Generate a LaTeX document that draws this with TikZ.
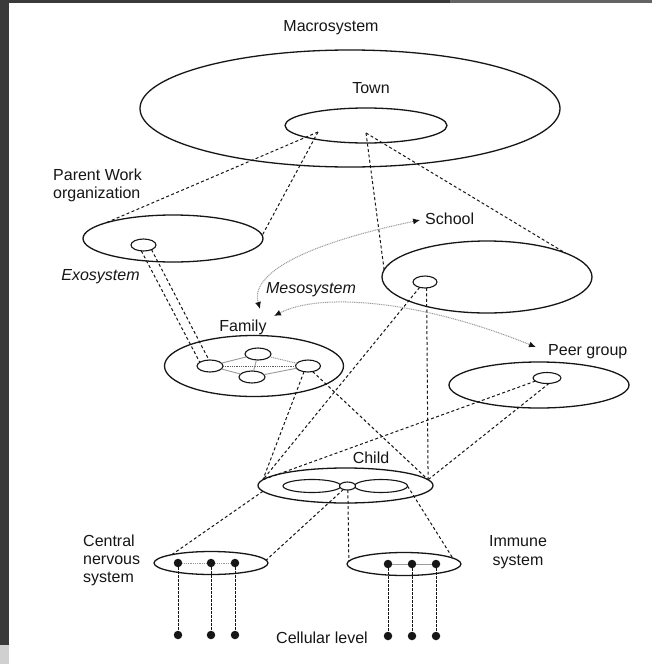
\documentclass[tikz,border=0pt]{standalone}
\usepackage{fontspec}
\setmainfont{Liberation Sans}
\usetikzlibrary{shapes.geometric,arrows.meta}
\definecolor{ink}{HTML}{161616}
\definecolor{bgdark}{HTML}{3A3A3A}
\definecolor{bgmid}{HTML}{646464}
\definecolor{bglight}{HTML}{D0D0D0}
\definecolor{lightln}{HTML}{9A9A9A}
\begin{document}
\begin{tikzpicture}[x=1pt,y=-1pt,
  ell/.style={ellipse, draw=ink, line width=1.3pt, inner sep=0pt, outer sep=0pt},
  smell/.style={ellipse, draw=ink, line width=1.1pt, inner sep=0pt, outer sep=0pt, fill=white},
  dsh/.style={draw=ink, line width=1pt, dash pattern=on 3pt off 2.4pt},
  vdsh/.style={draw=ink, line width=1pt, dash pattern=on 2.2pt off 1.8pt},
  meso/.style={draw=lightln, line width=1pt, dash pattern=on 1pt off 0.8pt,
     {Latex[length=7pt,width=6pt,color=ink]}-{Latex[length=7pt,width=6pt,color=ink]}},
  grayln/.style={draw=lightln, line width=0.9pt},
  graydot/.style={draw=lightln, line width=1pt, dash pattern=on 1pt off 0.8pt},
  lbl/.style={font=\fontsize{16}{18}\selectfont, text=ink, inner sep=0pt},
  lblit/.style={font=\fontsize{16}{18}\selectfont\itshape, text=ink, inner sep=0pt},
  dotn/.style={circle, fill=ink, inner sep=0pt, minimum size=8.5pt},
  ]
\useasboundingbox (0,0) rectangle (652,664);
\fill[white] (0,0) rectangle (652,664);
\fill[bgdark] (0,0) rectangle (9,664);
\fill[bglight] (0,645) rectangle (9,664);
\fill[bgdark] (0,0) rectangle (450,3);
\fill[bgmid] (450,0) rectangle (652,3);

% --- Macrosystem / Town
\node[lbl] (macroL) at (331,28) {Macrosystem};
\node[ell, minimum width=420, minimum height=117] (macro) at (350,108.5) {};
\node[lbl] (townL) at (371,88) {Town};
\node[ell, minimum width=162, minimum height=35] (town) at (366,125.5) {};
\coordinate (tA) at (318,132);
\coordinate (tB) at (366,133);

% --- Parent work
\node[lbl, align=left, anchor=west, font=\fontsize{16}{18}\selectfont] (pwL) at (53,185) {Parent Work\\organization};
\node[ell, minimum width=180, minimum height=47] (pw) at (173,238.5) {};
\node[smell, minimum width=25, minimum height=12] (pwc) at (143.5,245) {};
\node[lblit] (exoL) at (100.5,277) {Exosystem};

% --- School
\node[lbl, anchor=west] (schoolL) at (425,219) {School};
\node[ell, minimum width=210, minimum height=72] (school) at (487,277) {};
\node[smell, minimum width=24, minimum height=12] (sc) at (425,282) {};
\node[lblit] (mesoL) at (311,290) {Mesosystem};

% --- Family
\node[lbl] (familyL) at (243,327) {Family};
\node[ell, minimum width=179, minimum height=61] (family) at (254,366) {};
\node[smell, minimum width=26, minimum height=12] (fl) at (210,366) {};
\node[smell, minimum width=26, minimum height=12] (ft) at (258,354) {};
\node[smell, minimum width=25, minimum height=12] (fr) at (308,366) {};
\node[smell, minimum width=26, minimum height=12] (fb) at (252,377) {};
\draw[grayln] (fl) -- (ft);
\draw[graydot] (ft) -- (fr);
\draw[graydot, draw=ink!70] (fl) -- (fr);
\draw[grayln] (ft) -- (fb);
\draw[grayln] (fl) -- (fb);
\draw[grayln] (fb) -- (fr);

% --- Peer group
\node[lbl, anchor=west] (peerL) at (548,352) {Peer group};
\node[ell, minimum width=180, minimum height=46] (peer) at (539,385) {};
\node[smell, minimum width=28, minimum height=11] (pc) at (547,378) {};

% --- Child
\node[lbl] (childL) at (371,458) {Child};
\node[ell, minimum width=175, minimum height=35] (child) at (345.5,485.5) {};
\node[ell, line width=1.1pt, minimum width=58, minimum height=13] (llobe) at (312,486) {};
\node[ell, line width=1.1pt, minimum width=53, minimum height=13] (rlobe) at (381,486) {};
\node[smell, minimum width=16, minimum height=8] (cc) at (347.5,486) {};

% --- CNS / Immune
\node[lbl, align=left, anchor=west, font=\fontsize{16}{18}\selectfont] (cnsL) at (83,560) {Central\\nervous\\system};
\node[ell, minimum width=114, minimum height=23] (cns) at (211,563) {};
\node[lbl, align=center, font=\fontsize{16}{19}\selectfont] (immL) at (518,552.5) {Immune\\system};
\node[ell, minimum width=114, minimum height=23] (imm) at (404,564) {};

\node[dotn] (cn1) at (178,563) {};
\node[dotn] (cn2) at (211,563) {};
\node[dotn] (cn3) at (235,563) {};
\node[dotn] (cc1) at (178,635) {};
\node[dotn] (cc2) at (211,635) {};
\node[dotn] (cc3) at (235,635) {};
\node[dotn] (im1) at (388,564) {};
\node[dotn] (im2) at (412,564) {};
\node[dotn] (im3) at (436,564) {};
\node[dotn] (ic1) at (388,636) {};
\node[dotn] (ic2) at (412,636) {};
\node[dotn] (ic3) at (436,636) {};
\draw[graydot] (cn1) -- (cn2);
\draw[graydot] (cn2) -- (cn3);
\draw[grayln] (im1) -- (im2);
\draw[grayln] (im2) -- (im3);
\node[lbl] (cellL) at (322,638) {Cellular level};

% --- dashed connectors
\draw[dsh] (tA) -- (pw.167);
\draw[dsh] (tA) -- (pw.2);
\draw[dsh] (tB) -- (school.176);
\draw[dsh] (tB) -- (school.17);
\draw[dsh] (pwc.250) -- (fl.160);
\draw[dsh] (pwc.330) -- (fl.100);
\draw[dsh] (fr.235) -- (child.176);
\draw[dsh] (fr.310) -- (child.4);
\draw[dsh] (sc.225) -- (child.176);
\draw[dsh] (sc.285) -- (child.4);
\draw[dsh] (pc.195) -- (child.176);
\draw[dsh] (pc.290) -- (child.4);
\draw[dsh] (child.184) -- (cns.168);
\draw[dsh] (cc.220) -- (cns.3);
\draw[dsh] (cc.275) -- (imm.177);
\draw[dsh] (rlobe.east) -- (imm.7);
\draw[vdsh] (cn1) -- (cc1);
\draw[vdsh] (cn2) -- (cc2);
\draw[vdsh] (cn3) -- (cc3);
\draw[vdsh] (im1) -- (ic1);
\draw[vdsh] (im2) -- (ic2);
\draw[vdsh] (im3) -- (ic3);

% --- mesosystem arrows
\coordinate (famA) at (260,309);
\coordinate (famB) at (274,316);
\draw[meso, shorten >=5pt] (famA) .. controls (250,275) and (300,245) .. (schoolL.west);
\draw[meso, shorten >=13pt] (famB) .. controls (320,292) and (420,300) .. (peerL.west);
\end{tikzpicture}
\end{document}
